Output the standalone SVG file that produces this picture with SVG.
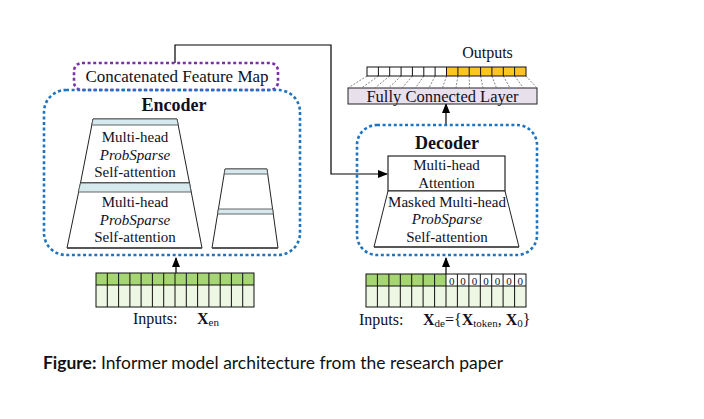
<svg xmlns="http://www.w3.org/2000/svg" width="704" height="419" viewBox="0 0 704 419">
<defs>
<marker id="arr" markerWidth="10" markerHeight="8" refX="9" refY="4" orient="auto" markerUnits="userSpaceOnUse">
<path d="M0,0 L10,4 L0,8 Z" fill="#000"/>
</marker>
<style>
.t{font-family:"Liberation Serif","Times New Roman",serif;fill:#10101e;}
.c{text-anchor:middle;}
.b{font-weight:bold;}
.i{font-style:italic;}
.blue{fill:none;stroke:#1f74c0;stroke-width:2.6;stroke-dasharray:3 2.6;}
.purple{fill:none;stroke:#7a30a8;stroke-width:2.6;stroke-dasharray:3 2.6;}
.trap{fill:#fff;stroke:#222;stroke-width:1;}
.band{fill:#d5e9ef;stroke:#555;stroke-width:0.9;}
.gl{stroke:#111;stroke-width:1;fill:none;}
.conn{stroke:#000;stroke-width:1.2;fill:none;}
.fan{stroke:#666;stroke-width:0.8;stroke-dasharray:2 1.5;}
</style>
</defs>
<rect width="704" height="419" fill="#fff"/>

<g id="connectors">
<path class="conn" d="M175,63 V45 H331 V174 H387" marker-end="url(#arr)"/>
<line class="conn" x1="176" y1="273" x2="176" y2="258" marker-end="url(#arr)"/>
<line class="conn" x1="446" y1="274" x2="446" y2="258" marker-end="url(#arr)"/>
<line class="conn" x1="446" y1="125" x2="446" y2="104" marker-end="url(#arr)"/>
</g>

<g id="concat-map">
<rect class="purple" x="74" y="63" width="204" height="27" rx="8"/>
<text class="t c" x="177" y="82" font-size="17">Concatenated Feature Map</text>
</g>

<g id="encoder">
<rect class="blue" x="44" y="90" width="256" height="165" rx="22"/>
<text class="t c b" x="174" y="111" font-size="18">Encoder</text>
</g>

<g id="encoder-layer-1">
<polygon class="trap" points="93,119 177,119 189.5,183 80.5,183"/>
<polygon class="band" points="93,119 177,119 178.2,125 91.8,125"/>
<text class="t c" x="135" y="142" font-size="15">Multi-head</text>
<text class="t c i" x="135" y="159.5" font-size="15">ProbSparse</text>
<text class="t c" x="135" y="177" font-size="15">Self-attention</text>
</g>

<g id="encoder-layer-2">
<polygon class="trap" points="80.5,183 189.5,183 202,248 67,248"/>
<polygon class="band" points="80.5,183 189.5,183 191.1,192 78.3,192"/>
<line x1="67" y1="248" x2="202" y2="248" stroke="#444" stroke-width="1.6"/>
<text class="t c" x="135" y="207" font-size="15">Multi-head</text>
<text class="t c i" x="135" y="224.5" font-size="15">ProbSparse</text>
<text class="t c" x="135" y="242" font-size="15">Self-attention</text>
</g>

<g id="encoder-small-stack">
<polygon class="trap" points="225,169 267,169 278,248 212,248"/>
<polygon class="band" points="225,169 267,169 267.7,174 224.2,174"/>
<polygon class="band" points="218.4,209 272.6,209 273.3,214 217.6,214"/>
<line x1="212" y1="248" x2="278" y2="248" stroke="#444" stroke-width="1.6"/>
</g>

<g id="encoder-input">
<rect x="96" y="273" width="158" height="12" fill="#a6d673"/>
<rect x="96" y="285" width="158" height="22" fill="#eef6e4"/>
<rect class="gl" x="96" y="273" width="158" height="34"/>
<line class="gl" x1="96" y1="285" x2="254" y2="285"/>
<path class="gl" d="M107.3,273V307M118.6,273V307M129.9,273V307M141.1,273V307M152.4,273V307M163.7,273V307M175,273V307M186.3,273V307M197.6,273V307M208.9,273V307M220.2,273V307M231.4,273V307M242.7,273V307"/>
<text class="t" x="133" y="324" font-size="16">Inputs:</text>
<text class="t" x="197" y="324" font-size="16"><tspan class="b">X</tspan><tspan font-size="11" dy="2">en</tspan></text>
</g>

<g id="decoder">
<rect class="blue" x="357" y="125" width="180" height="130" rx="20"/>
<text class="t c b" x="447" y="149" font-size="18">Decoder</text>
</g>

<g id="decoder-attention">
<rect x="388" y="156" width="117" height="35" fill="#fff" stroke="#111" stroke-width="1.1"/>
<text class="t c" x="446.5" y="170" font-size="15">Multi-head</text>
<text class="t c" x="446.5" y="188" font-size="15">Attention</text>
</g>

<g id="decoder-masked">
<polygon class="trap" points="388,191 505,191 519,247 374,247"/>
<line x1="374" y1="247" x2="519" y2="247" stroke="#444" stroke-width="1.6"/>
<text class="t c" x="447" y="207" font-size="15">Masked Multi-head</text>
<text class="t c i" x="447" y="224" font-size="15">ProbSparse</text>
<text class="t c" x="447" y="242" font-size="15">Self-attention</text>
</g>

<g id="decoder-input">
<rect x="366" y="274" width="80" height="12" fill="#a6d673"/>
<rect x="446" y="274" width="80" height="12" fill="#fff"/>
<rect x="366" y="286" width="160" height="21" fill="#eef6e4"/>
<rect class="gl" x="366" y="274" width="160" height="33"/>
<line class="gl" x1="366" y1="286" x2="526" y2="286"/>
<path class="gl" d="M377.4,274V307M388.9,274V307M400.3,274V307M411.7,274V307M423.1,274V307M434.6,274V307M446,274V307M457.4,274V307M468.9,274V307M480.3,274V307M491.7,274V307M503.1,274V307M514.6,274V307"/>
<g class="t c" font-size="11">
<text x="451.7" y="284.5">0</text><text x="463.1" y="284.5">0</text><text x="474.6" y="284.5">0</text><text x="486" y="284.5">0</text><text x="497.4" y="284.5">0</text><text x="508.9" y="284.5">0</text><text x="520.3" y="284.5">0</text>
</g>
<text class="t" x="359" y="325" font-size="16">Inputs:</text>
<text class="t" x="423" y="325" font-size="16"><tspan class="b">X</tspan><tspan font-size="11" dy="2">de</tspan><tspan dy="-2">={</tspan><tspan class="b">X</tspan><tspan font-size="11" dy="2">token</tspan><tspan dy="-2">, </tspan><tspan class="b">X</tspan><tspan font-size="11" dy="2">0</tspan><tspan dy="-2">}</tspan></text>
</g>

<g id="fully-connected">
<rect x="348" y="88" width="189" height="16" fill="#e9e0ee" stroke="#222" stroke-width="1"/>
<text class="t c" x="442.5" y="102" font-size="16.5">Fully Connected Layer</text>
<g>
<line class="fan" x1="367" y1="76" x2="348" y2="88"/><line class="fan" x1="378.4" y1="76" x2="361.5" y2="88"/><line class="fan" x1="389.7" y1="76" x2="375" y2="88"/><line class="fan" x1="401.1" y1="76" x2="388.5" y2="88"/><line class="fan" x1="412.4" y1="76" x2="402" y2="88"/><line class="fan" x1="423.8" y1="76" x2="415.5" y2="88"/><line class="fan" x1="435.1" y1="76" x2="429" y2="88"/><line class="fan" x1="446.5" y1="76" x2="442.5" y2="88"/><line class="fan" x1="457.9" y1="76" x2="456" y2="88"/><line class="fan" x1="469.2" y1="76" x2="469.5" y2="88"/><line class="fan" x1="480.6" y1="76" x2="483" y2="88"/><line class="fan" x1="491.9" y1="76" x2="496.5" y2="88"/><line class="fan" x1="503.3" y1="76" x2="510" y2="88"/><line class="fan" x1="514.6" y1="76" x2="523.5" y2="88"/><line class="fan" x1="526" y1="76" x2="537" y2="88"/>
</g>
</g>

<g id="outputs">
<rect x="367" y="67" width="79.5" height="9" fill="#fff"/>
<rect x="446.5" y="67" width="79.5" height="9" fill="#fcc424"/>
<rect class="gl" x="367" y="67" width="159" height="9"/>
<path class="gl" d="M378.4,67V76M389.7,67V76M401.1,67V76M412.4,67V76M423.8,67V76M435.1,67V76M446.5,67V76M457.9,67V76M469.2,67V76M480.6,67V76M491.9,67V76M503.3,67V76M514.6,67V76"/>
<text class="t c" x="487.5" y="58" font-size="16">Outputs</text>
</g>

<g id="caption">
<text x="43" y="369" font-family="Lato, 'Liberation Sans', sans-serif" font-size="16.5" fill="#111" textLength="460" lengthAdjust="spacingAndGlyphs"><tspan font-weight="bold">Figure:</tspan> Informer model architecture from the research paper</text>
</g>
</svg>
